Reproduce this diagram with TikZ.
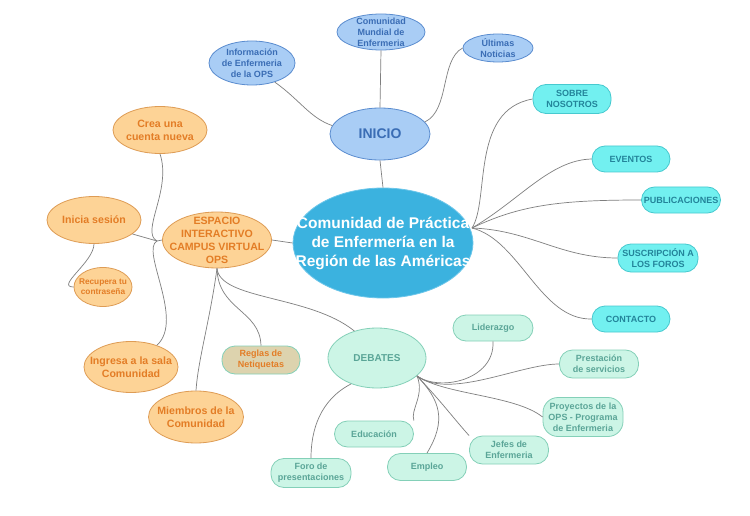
\documentclass[tikz,border=0pt]{standalone}
\usepackage{fontspec}
\setmainfont{Liberation Sans}
\usetikzlibrary{shapes.geometric}
\definecolor{bluefill}{HTML}{A9CDF5}
\definecolor{bluedraw}{HTML}{5A8CCF}
\definecolor{bluetext}{HTML}{3A6DB5}
\definecolor{cenfill}{HTML}{3BB2DF}
\definecolor{cendraw}{HTML}{6CC6EA}
\definecolor{cyanfill}{HTML}{72F0F0}
\definecolor{cyandraw}{HTML}{47C9CF}
\definecolor{cyantext}{HTML}{23849A}
\definecolor{orfill}{HTML}{FDD396}
\definecolor{ordraw}{HTML}{DE9C55}
\definecolor{ortext}{HTML}{E37D26}
\definecolor{mintfill}{HTML}{CCF5E6}
\definecolor{mintdraw}{HTML}{84D0B8}
\definecolor{minttext}{HTML}{5AA597}
\definecolor{tanfill}{HTML}{DDD3AE}
\definecolor{linecol}{HTML}{7F7F7F}
\tikzset{
  base/.style={inner sep=0pt, align=center, line width=0.8pt},
  shapeonly/.style={inner sep=0pt, line width=0.8pt},
  bluenode/.style={shapeonly, ellipse, fill=bluefill, draw=bluedraw},
  bluetxt/.style={base, text=bluetext, font=\bfseries\fontsize{9}{11}\selectfont},
  cennode/.style={shapeonly, ellipse, fill=cenfill, draw=cendraw},
  centxt/.style={base, text=white, font=\bfseries\fontsize{15.5}{19}\selectfont},
  cyannode/.style={base, rectangle, rounded corners=13pt, fill=cyanfill, draw=cyandraw, text=cyantext, font=\bfseries\fontsize{9}{11}\selectfont},
  ornode/.style={shapeonly, ellipse, fill=orfill, draw=ordraw},
  ortxt/.style={base, text=ortext, font=\bfseries\fontsize{10.6}{13}\selectfont},
  mintnode/.style={base, rectangle, rounded corners=13pt, fill=mintfill, draw=mintdraw, text=minttext, font=\bfseries\fontsize{9}{11}\selectfont},
  mintell/.style={shapeonly, ellipse, fill=mintfill, draw=mintdraw},
  minttxt/.style={base, text=minttext, font=\bfseries\fontsize{10}{12}\selectfont},
  conn/.style={draw=linecol, line width=0.7pt},
}
\begin{document}
\begin{tikzpicture}[x=1pt,y=-1pt]
\useasboundingbox[fill=white] (0,0) rectangle (750,516);

% blue group
\node[bluenode, minimum width=100pt, minimum height=52pt] (inicio) at (380,134) {};
\node[bluetxt, font=\bfseries\fontsize{14}{16}\selectfont] (inicio-t) at (inicio) {INICIO};
\node[bluenode, minimum width=86pt, minimum height=44pt] (info) at (252,63) {};
\node[bluetxt] (info-t) at (info) {Información\\de Enfermeria\\de la OPS};
\node[bluenode, minimum width=88pt, minimum height=36pt] (mundial) at (381,32) {};
\node[bluetxt] (mundial-t) at (mundial) {Comunidad\\Mundial de\\Enfermeria};
\node[bluenode, minimum width=70pt, minimum height=28pt] (ultimas) at (498,48) {};
\node[bluetxt] (ultimas-t) at (ultimas) {Últimas\\Noticias};

% central
\node[cennode, minimum width=180pt, minimum height=110pt] (central) at (383,243) {};
\node[centxt] (central-t) at (central) {Comunidad de Práctica\\de Enfermería en la\\Región de las Américas};

% cyan
\node[cyannode, minimum width=78pt, minimum height=29pt] (sobre) at (572,99) {SOBRE\\NOSOTROS};
\node[cyannode, minimum width=78pt, minimum height=26pt] (eventos) at (631,159) {EVENTOS};
\node[cyannode, minimum width=79pt, minimum height=26pt] (publ) at (681,200) {PUBLICACIONES};
\node[cyannode, minimum width=80pt, minimum height=28pt] (susc) at (658,258) {SUSCRIPCIÓN A\\LOS FOROS};
\node[cyannode, minimum width=78pt, minimum height=26pt] (contacto) at (631,319) {CONTACTO};

% orange
\node[ornode, minimum width=109pt, minimum height=56pt] (espacio) at (217,240) {};
\node[ortxt] (espacio-t) at (espacio) {ESPACIO\\INTERACTIVO\\CAMPUS VIRTUAL\\OPS};
\node[ornode, minimum width=94pt, minimum height=47pt] (crea) at (160,130) {};
\node[ortxt] (crea-t) at (crea) {Crea una\\cuenta nueva};
\node[ornode, minimum width=94pt, minimum height=47pt] (inicia) at (94,220) {};
\node[ortxt] (inicia-t) at (inicia) {Inicia sesión};
\node[ornode, minimum width=58pt, minimum height=39pt] (recupera) at (103,287) {};
\node[ortxt, font=\bfseries\fontsize{8.3}{10}\selectfont] (recupera-t) at (recupera) {Recupera tu\\contraseña};
\node[ornode, minimum width=94pt, minimum height=51pt] (ingresa) at (131,367) {};
\node[ortxt] (ingresa-t) at (ingresa) {Ingresa a la sala\\Comunidad};
\node[ornode, minimum width=95pt, minimum height=52pt] (miembros) at (196,417) {};
\node[ortxt] (miembros-t) at (miembros) {Miembros de la\\Comunidad};
\node[base, rectangle, rounded corners=13pt, fill=tanfill, draw=mintdraw, text=ortext, font=\bfseries\fontsize{9}{11}\selectfont, minimum width=78pt, minimum height=28pt] (reglas) at (261,360) {Reglas de\\Netiquetas};

% mint
\node[mintell, minimum width=98pt, minimum height=60pt] (debates) at (377,358) {};
\node[minttxt] (debates-t) at (debates) {DEBATES};
\node[mintnode, minimum width=80pt, minimum height=26pt] (lider) at (493,328) {Liderazgo};
\node[mintnode, minimum width=79pt, minimum height=28pt] (prest) at (599,364) {Prestación\\de servicios};
\node[mintnode, minimum width=80pt, minimum height=39pt, rounded corners=15pt] (proy) at (583,417) {Proyectos de la\\OPS - Programa\\de Enfermeria};
\node[mintnode, minimum width=79pt, minimum height=28pt] (jefes) at (509,450) {Jefes de\\Enfermeria};
\node[mintnode, minimum width=79pt, minimum height=27pt] (empleo) at (427,467) {Empleo};
\node[mintnode, minimum width=79pt, minimum height=26pt] (educ) at (374,434) {Educación};
\node[mintnode, minimum width=80pt, minimum height=29pt] (foro) at (311,473) {Foro de\\presentaciones};

% hubs
\coordinate (hubC) at (472,228);
\coordinate (hubE) at (157,241);
\coordinate (hubD) at (417,376);

% inicio connectors
\draw[conn] (inicio.south) -- (central.north);
\draw[conn] (inicio.north) -- (mundial.south);
\draw[conn] (inicio.170) .. controls (310,118) and (300,100) .. (info.-40);
\draw[conn] (inicio.15) .. controls (450,110) and (440,60) .. (ultimas.west);

% central hub
\draw[conn] (hubC) .. controls (490,200) and (470,110) .. (sobre.west);
\draw[conn] (hubC) .. controls (520,200) and (550,160) .. (eventos.west);
\draw[conn] (hubC) .. controls (520,205) and (560,200) .. (publ.west);
\draw[conn] (hubC) .. controls (530,230) and (560,258) .. (susc.west);
\draw[conn] (hubC) .. controls (520,240) and (540,320) .. (contacto.west);

% espacio
\draw[conn] (central.west) -- (espacio.east);
\draw[conn] (hubE) -- (espacio.west);
\draw[conn] (hubE) .. controls (140,232) and (172,190) .. (crea.south);
\draw[conn] (hubE) -- (inicia.-20);
\draw[conn] (hubE) .. controls (140,250) and (185,320) .. (ingresa.40);
\draw[conn] (espacio.south) .. controls (210,320) and (198,360) .. (miembros.north);
\draw[conn] (espacio.south) .. controls (218,310) and (260,310) .. (reglas.north);
\draw[conn] (espacio.south) .. controls (220,300) and (310,295) .. (debates.130);
\draw[conn] (inicia.south) .. controls (94,262) and (55,287) .. (recupera.west);

% debates
\draw[conn] (hubD) .. controls (440,392) and (495,380) .. (lider.south);
\draw[conn] (hubD) .. controls (450,400) and (520,364) .. (prest.west);
\draw[conn] (hubD) .. controls (445,395) and (515,395) .. (proy.west);
\draw[conn] (hubD) .. controls (440,400) and (455,420) .. (jefes.north west);
\draw[conn] (hubD) .. controls (440,400) and (447,420) .. (empleo.north);
\draw[conn] (hubD) .. controls (425,395) and (410,410) .. (educ.north east);
\draw[conn] (debates.225) .. controls (320,400) and (311,430) .. (foro.north);
\end{tikzpicture}
\end{document}
